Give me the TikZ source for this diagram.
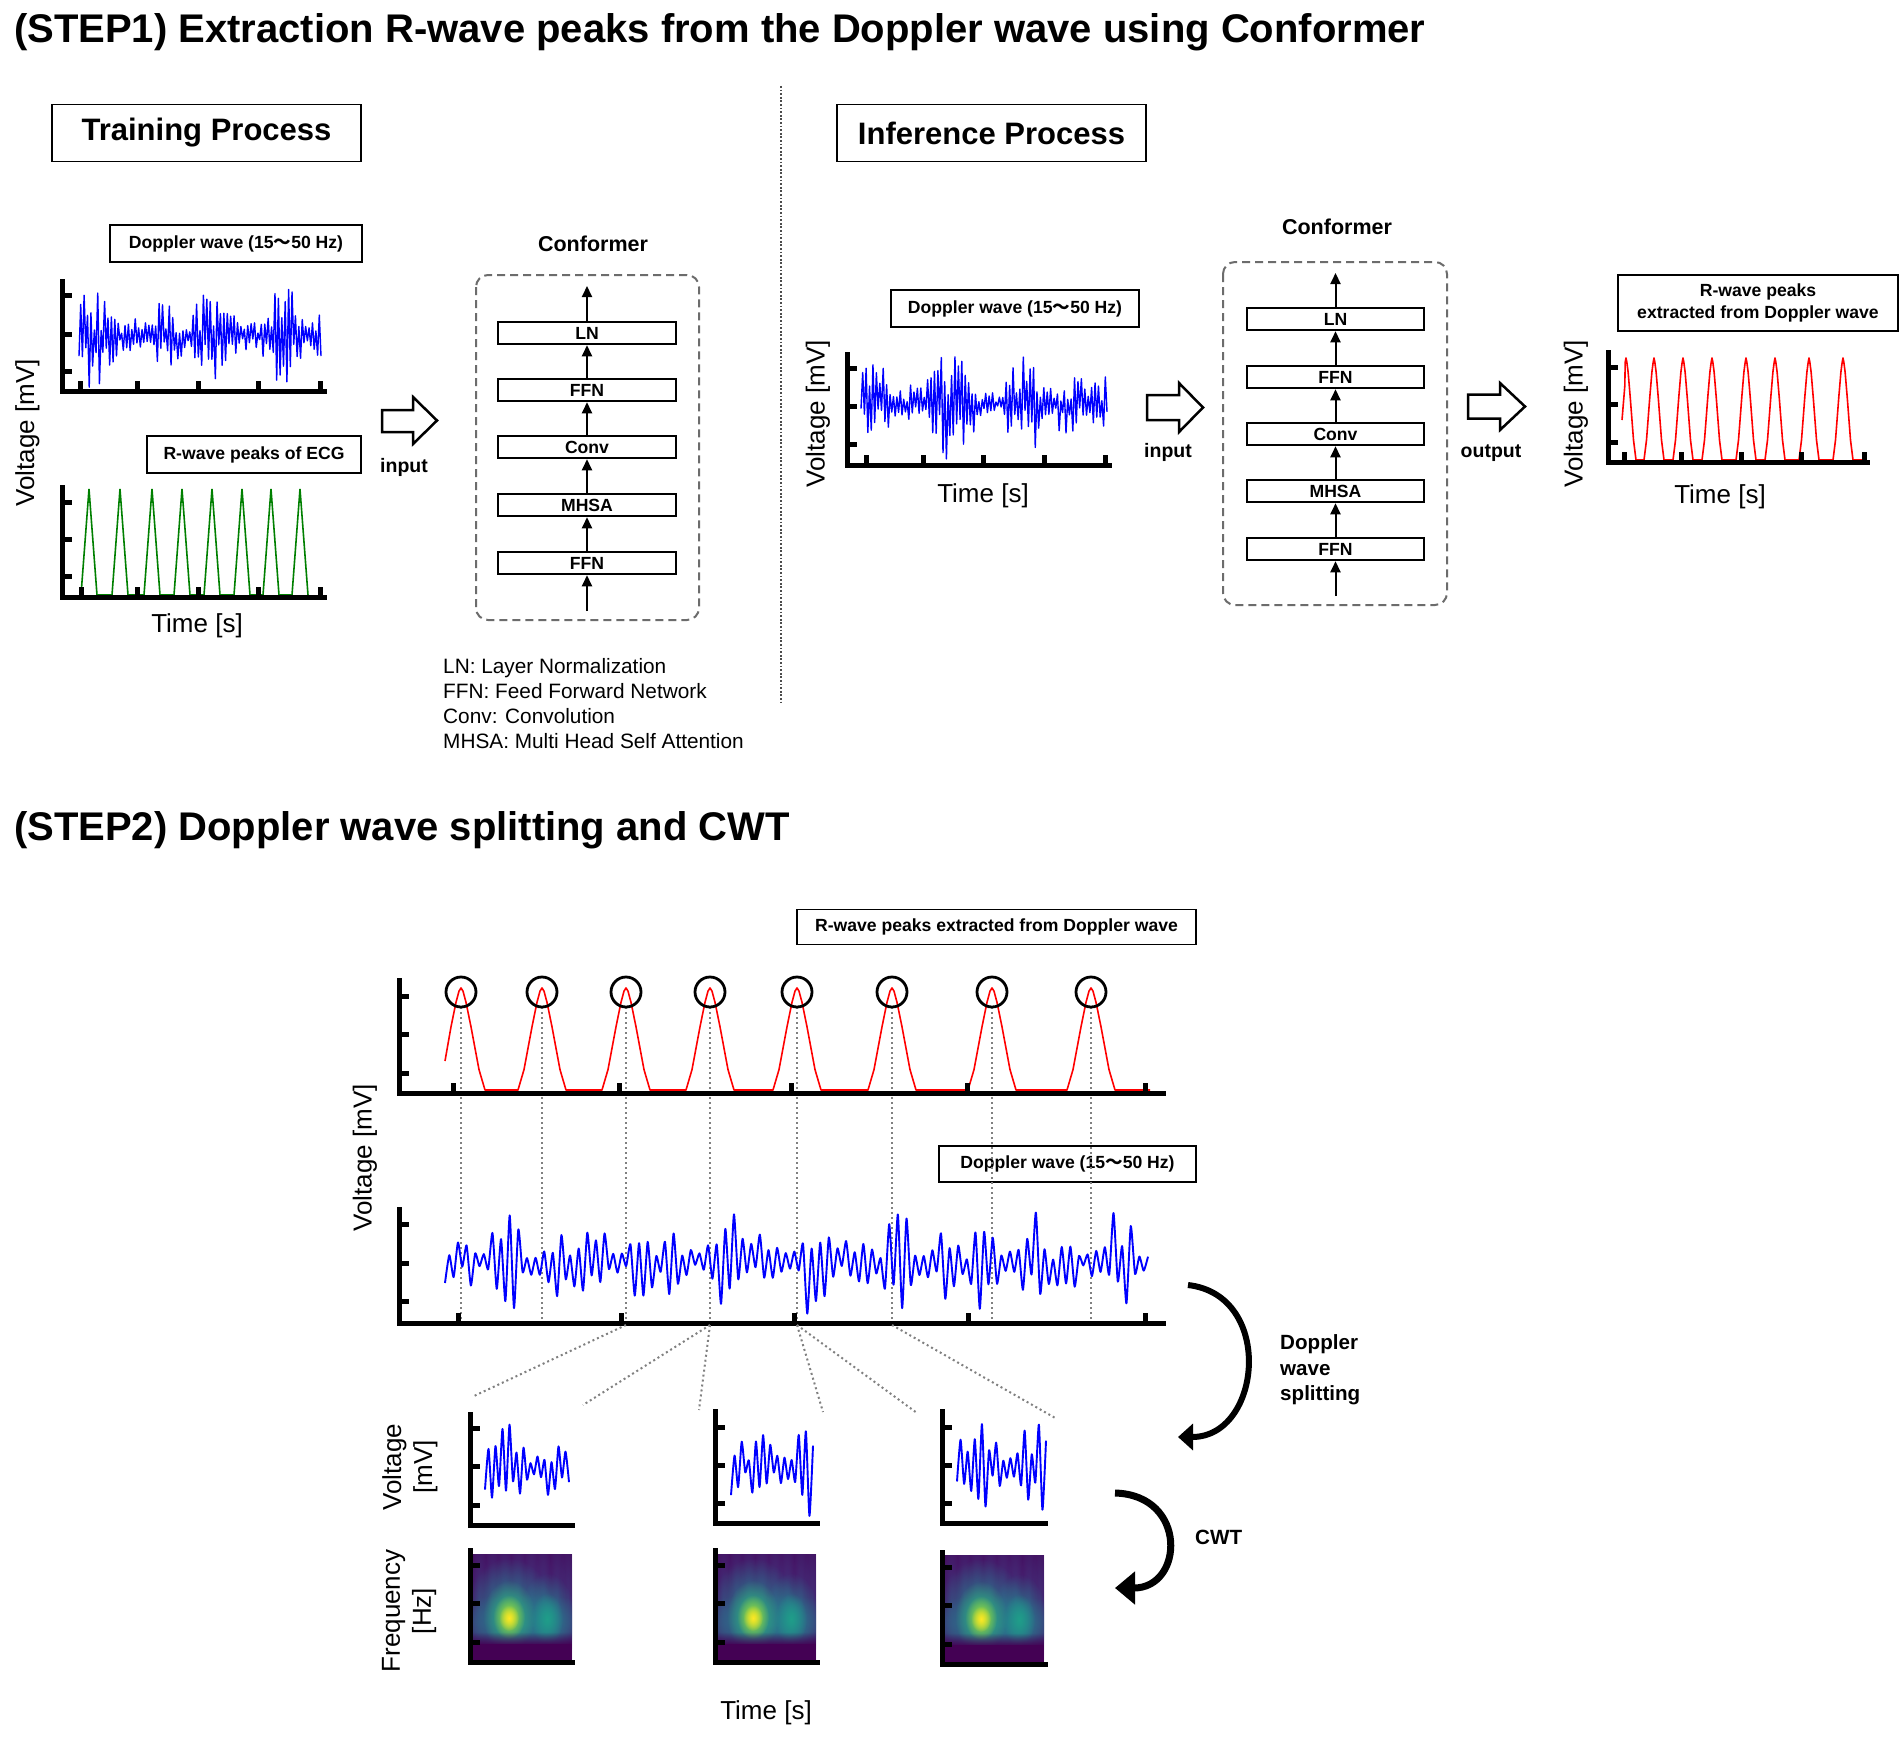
\documentclass[tikz,border=0pt]{standalone}
\usepackage{fontspec}
\setmainfont{Liberation Sans}
\newfontfamily\cjkfont{Noto Sans CJK JP}
\usetikzlibrary{arrows.meta,fadings}

\definecolor{vir0}{HTML}{440154}
\definecolor{virA}{HTML}{482878}
\definecolor{vir1}{HTML}{3E4A89}
\definecolor{virB}{HTML}{31688E}
\definecolor{vir2}{HTML}{26828E}
\definecolor{virC}{HTML}{1F9E89}
\definecolor{vir3}{HTML}{35B779}
\definecolor{virD}{HTML}{B4DE2C}
\definecolor{vir4}{HTML}{FDE725}
\definecolor{ecggreen}{RGB}{0,128,0}

\tikzfading[name=glow, inner color=transparent!0, outer color=transparent!100]
\tikzfading[name=fadedown, top color=transparent!100, bottom color=transparent!0]

\newcommand\ftitle{\fontsize{40pt}{48pt}\selectfont\bfseries}
\newcommand\fproc{\fontsize{31pt}{37pt}\selectfont\bfseries}
\newcommand\flabel{\fontsize{17.6pt}{22pt}\selectfont\bfseries}
\newcommand\faxis{\fontsize{26pt}{31pt}\selectfont}
\newcommand\fconf{\fontsize{21.5pt}{26pt}\selectfont\bfseries}
\newcommand\fblk{\fontsize{17.6pt}{21pt}\selectfont\bfseries}
\newcommand\fleg{\fontsize{20.8pt}{25pt}\selectfont}
\newcommand\fio{\fontsize{19.5pt}{23pt}\selectfont\bfseries}
\newcommand\fside{\fontsize{20.6pt}{25pt}\selectfont\bfseries}
\newcommand\tld{{\cjkfont ～}}

\tikzset{
  lbl/.style={draw, line width=1.8pt, inner sep=0pt, font=\flabel, align=center},
  proc/.style={draw, line width=1.8pt, inner sep=0pt, font=\fproc},
  blk/.style={draw, line width=2pt, inner sep=0pt, minimum height=22.5pt, font=\fblk},
  arr/.style={line width=2pt, -{Triangle[length=11pt,width=10pt]}},
  dbox/.style={draw=gray!85!black, line width=2pt, dash pattern=on 8pt off 5pt, rounded corners=12pt},
  sepline/.style={draw=gray!60!black, line width=1.8pt, dash pattern=on 1.8pt off 1.8pt},
  dotline/.style={draw=gray, line width=2pt, dash pattern=on 2pt off 3pt},
  hollow/.style={draw, line width=2.5pt, line join=miter, fill=white},
  bluewave/.style={draw=blue, line width=1.4pt, line join=round},
  bluewave2/.style={draw=blue, line width=1.9pt, line join=round},
  redwave/.style={draw=red, line width=1.6pt, line join=round},
  greenwave/.style={draw=ecggreen, line width=1.6pt},
  bigcurve/.style={line width=6pt},
  txt/.style={inner sep=0pt}
}

\newcommand\plotaxes[6]{%
  \draw[line width=5pt] (#1,#2) -- (#1,#3) -- (#4,#3);
  \foreach \tk in {#5} {\fill (#1,\tk-2.5) rectangle (#1+10,\tk+2.5);}
  \foreach \tk in {#6} {\fill (\tk-2.5,#3) rectangle (\tk+2.5,#3-10);}
}
\newcommand\plotaxesnox[5]{%
  \draw[line width=5pt] (#1,#2) -- (#1,#3) -- (#4,#3);
  \foreach \tk in {#5} {\fill (#1,\tk-2.5) rectangle (#1+10,\tk+2.5);}
}
\newcommand\cwtimg[2]{%
  \begin{scope}[shift={(#1,#2)}]
    \fill[vir0] (0,0) rectangle (99,107);
    \begin{scope}
      \clip (0,0) rectangle (99,107);
      \fill[virA, path fading=glow] (48,50) ellipse (110pt and 100pt);
      \foreach \sx in {6,19,31,45,58,70,84,95} {\fill[vir1, opacity=0.45, path fading=glow] (\sx,45) ellipse (9pt and 70pt);}
      \fill[virB, path fading=glow] (50,70) ellipse (95pt and 30pt);
      \fill[vir2, path fading=glow] (36,58) ellipse (44pt and 54pt);
      \fill[vir2, path fading=glow] (74,63) ellipse (28pt and 44pt);
      \fill[vir3, path fading=glow] (36,62) ellipse (26pt and 36pt);
      \fill[virC, path fading=glow] (74,65) ellipse (16pt and 26pt);
      \fill[virD, path fading=glow] (36,63) ellipse (16pt and 22pt);
      \fill[vir4, path fading=glow] (36,64) ellipse (10pt and 13pt);
      \fill[vir0, path fading=fadedown] (0,78) rectangle (99,92);
      \fill[vir0] (0,90) rectangle (99,107);
    \end{scope}
  \end{scope}
}

\begin{document}
\begin{tikzpicture}[x=1pt,y=-1pt]
\useasboundingbox (0,0) rectangle (1904,1737);
\fill[white] (0,0) rectangle (1904,1737);

% ---------------- titles
\node[txt, anchor=base west, font=\ftitle] (t1) at (14,43) {(STEP1) Extraction R-wave peaks from the Doppler wave using Conformer};
\node[txt, anchor=base west, font=\ftitle] (t2) at (14,840) {(STEP2) Doppler wave splitting and CWT};

% ---------------- process boxes
\node[proc, minimum width=309pt, minimum height=57pt] (tp) at (206.5,133) {Training Process};
\node[proc, minimum width=309pt, minimum height=57pt] (ip) at (991.5,133) {Inference Process};

% separator
\draw[sepline] (781,86) -- (781,702);

% ---------------- training: Doppler plot
\node[lbl, minimum width=252pt, minimum height=37pt] (ld1) at (236,243.5) {Doppler wave (15\tld50 Hz)};
\pgfmathsetseed{3}
\draw[bluewave] plot[domain=79:321, samples=143] (\x,{336+54*(0.25+0.75*abs(sin(2.9*\x)*cos(1.7*\x+30)))*(1-2*mod(round((\x-79)/1.70423),2))*(0.1+0.9*abs(rand))});
\plotaxes{62}{279}{391}{327}{295,334,371}{80,137,198,258,320}

% training: ECG plot
\node[lbl, minimum width=214pt, minimum height=37pt] (lr1) at (254,454.5) {R-wave peaks of ECG};
\draw[greenwave] (81,595) \foreach \p in {89,120,152,182,212,242,271,300} { -- (\p-8,595) -- (\p,489) -- (\p+8,595) };
\plotaxes{62}{485}{597}{327}{502,539,576}{81,137,198,258,320}

\node[font=\faxis, rotate=90] (v1) at (27.5,433) {Voltage [mV]};
\node[font=\faxis] (tm1) at (197,626) {Time [s]};

% hollow arrow + input
\draw[hollow] (382,410) -- (413,410) -- (413,397) -- (437,420.5) -- (413,444) -- (413,432) -- (382,432) -- cycle;
\node[txt, anchor=base, font=\fio] (in1) at (404,472) {input};

% ---------------- conformer (left)
\node[font=\fconf] (cfL) at (593,244) {Conformer};
\draw[dbox] (476,275) rectangle (699,620);
\node[blk, minimum width=178pt] (L1) at (587,563) {FFN};
\node[blk, minimum width=178pt] (L2) at (587,505) {MHSA};
\node[blk, minimum width=178pt] (L3) at (587,447) {Conv};
\node[blk, minimum width=178pt] (L4) at (587,390) {FFN};
\node[blk, minimum width=178pt] (L5) at (587,333) {LN};
\coordinate (Lin) at (587,611);
\coordinate (Lout) at (587,286);
\draw[arr] (Lin) -- (L1);
\draw[arr] (L1) -- (L2);
\draw[arr] (L2) -- (L3);
\draw[arr] (L3) -- (L4);
\draw[arr] (L4) -- (L5);
\draw[arr] (L5) -- (Lout);

\node[txt, anchor=base west, font=\fleg] (g1) at (443,673) {LN: Layer Normalization};
\node[txt, anchor=base west, font=\fleg] (g2) at (443,698) {FFN: Feed Forward Network};
\node[txt, anchor=base west, font=\fleg] (g3) at (443,723) {Conv: Convolution};
\node[txt, anchor=base west, font=\fleg] (g4) at (443,748) {MHSA: Multi Head Self Attention};

% ---------------- inference: Doppler plot
\node[lbl, minimum width=248pt, minimum height=37pt] (ld2) at (1015,308.5) {Doppler wave (15\tld50 Hz)};
\pgfmathsetseed{5}
\draw[bluewave] plot[domain=861:1107, samples=145] (\x,{404+58*(0.25+0.75*abs(sin(2.7*\x+40)*cos(1.9*\x)))*(1-2*mod(round((\x-861)/1.70833),2))*(0.1+0.9*abs(rand))});
\plotaxes{847}{352}{465}{1112}{368,406,444}{866,923,983,1044,1105}
\node[font=\faxis, rotate=90] (v2) at (818,414) {Voltage [mV]};
\node[font=\faxis] (tm2) at (983,496) {Time [s]};

\draw[hollow] (1147,395) -- (1179,395) -- (1179,383) -- (1203,407.5) -- (1179,432) -- (1179,420) -- (1147,420) -- cycle;
\node[txt, anchor=base, font=\fio] (in2) at (1168,457) {input};

% conformer (right)
\node[font=\fconf] (cfR) at (1337,227) {Conformer};
\draw[dbox] (1223,262) rectangle (1447,605);
\node[blk, minimum width=177pt] (R1) at (1335.5,549) {FFN};
\node[blk, minimum width=177pt] (R2) at (1335.5,491) {MHSA};
\node[blk, minimum width=177pt] (R3) at (1335.5,434) {Conv};
\node[blk, minimum width=177pt] (R4) at (1335.5,377) {FFN};
\node[blk, minimum width=177pt] (R5) at (1335.5,319) {LN};
\coordinate (Rin) at (1335.5,596);
\coordinate (Rout) at (1335.5,273);
\draw[arr] (Rin) -- (R1);
\draw[arr] (R1) -- (R2);
\draw[arr] (R2) -- (R3);
\draw[arr] (R3) -- (R4);
\draw[arr] (R4) -- (R5);
\draw[arr] (R5) -- (Rout);

\draw[hollow] (1468,394.5) -- (1500,394.5) -- (1500,383) -- (1525,406.5) -- (1500,430) -- (1500,418.5) -- (1468,418.5) -- cycle;
\node[txt, anchor=base, font=\fio] (out1) at (1491,457) {output};

% inference: R-wave plot
\node[lbl, minimum width=280pt, minimum height=56pt] (lr2) at (1758,303) {R-wave peaks\\extracted from Doppler wave};
\draw[redwave] (1622,420) -- (1624.8,386) -- (1625.2,362) -- (1626,358) -- (1626.8,362) -- (1628.1,372) -- (1630.2,397) -- (1633.5,440) -- (1636,460)
  \foreach \p in {1654,1683,1712,1746,1775,1809,1843} { -- (\p-10,460) -- (\p-7.5,440) -- (\p-4.2,397) -- (\p-2.1,372) -- (\p-0.8,362) -- (\p,358) -- (\p+0.8,362) -- (\p+2.1,372) -- (\p+4.2,397) -- (\p+7.5,440) -- (\p+10,460) } -- (1866,460);
\plotaxes{1608}{350}{462}{1870}{367,404,442}{1624,1681,1741,1801,1864}
\node[font=\faxis, rotate=90] (v3) at (1576,414) {Voltage [mV]};
\node[font=\faxis] (tm3) at (1720,497) {Time [s]};

% ---------------- STEP2
\node[lbl, minimum width=399pt, minimum height=35pt] (lr3) at (996.5,927) {R-wave peaks extracted from Doppler wave};
\node[lbl, minimum width=257pt, minimum height=36pt] (ld3) at (1067.5,1164) {Doppler wave (15\tld50 Hz)};

% vertical dotted lines
\foreach \p in {461,542,626,710,797,892,992,1091} {\draw[dotline] (\p,1007) -- (\p,1323);}

% red peaks
\draw[redwave] (445,1061) -- (451,1026.8) -- (456,1002.3) -- (459,991.1) -- (461,988) -- (463,991.1) -- (466,1002.3) -- (471,1026.8) -- (479,1069.6) -- (485,1090)
  \foreach \p in {542,626,710,797,892,992,1091} { -- (\p-24,1090) -- (\p-18,1069.6) -- (\p-10,1026.8) -- (\p-5,1002.3) -- (\p-2,991.1) -- (\p,988) -- (\p+2,991.1) -- (\p+5,1002.3) -- (\p+10,1026.8) -- (\p+18,1069.6) -- (\p+24,1090) } -- (1150,1090);
\foreach \p in {461,542,626,710,797,892,992,1091} {\draw[line width=2.8pt] (\p,992) circle (15pt);}
\plotaxes{399}{978}{1093}{1166}{996,1034,1073}{453,619,791,967,1145}

% doppler wave step2
\pgfmathsetseed{21}
\draw[bluewave2] plot[smooth, tension=0.35, domain=445:1148, samples=164] (\x,{1262+62*(0.2+0.8*abs(sin(4.1*\x)*sin(2.3*\x+17)))*(1-2*mod(round((\x-445)/4.3129),2))*(0.15+0.85*abs(rand))});
\plotaxes{399}{1207}{1323}{1166}{1224,1263,1301}{458,621,794,968,1145}
\node[font=\faxis, rotate=90] (v4) at (365,1158) {Voltage [mV]};

% fan lines
\draw[dotline] (626,1325) -- (474,1396);
\draw[dotline] (710,1325) -- (583,1405);
\draw[dotline] (710,1325) -- (699,1410);
\draw[dotline] (797,1325) -- (823,1412);
\draw[dotline] (797,1325) -- (917,1413);
\draw[dotline] (892,1325) -- (1057,1419);

% small segment plots
\pgfmathsetseed{31}
\draw[bluewave2] plot[smooth, tension=0.35, domain=485:569, samples=25] (\x,{1470+56*(0.3+0.7*abs(sin(4.1*\x)*sin(2.3*\x+17)))*(1-2*mod(round((\x-485)/3.5),2))*(0.2+0.8*abs(rand))});
\pgfmathsetseed{37}
\draw[bluewave2] plot[smooth, tension=0.35, domain=731:813, samples=24] (\x,{1466+56*(0.3+0.7*abs(sin(4.1*\x)*sin(2.3*\x+17)))*(1-2*mod(round((\x-731)/3.5652),2))*(0.2+0.8*abs(rand))});
\pgfmathsetseed{41}
\draw[bluewave2] plot[smooth, tension=0.35, domain=957:1046, samples=26] (\x,{1466+56*(0.3+0.7*abs(sin(4.1*\x)*sin(2.3*\x+17)))*(1-2*mod(round((\x-957)/3.56),2))*(0.2+0.8*abs(rand))});
\plotaxesnox{470}{1412}{1525}{575}{1428,1466,1505}
\plotaxesnox{715}{1409}{1523}{820}{1427,1465,1503}
\plotaxesnox{942}{1409}{1523}{1048}{1427,1465,1503}
\node[font=\faxis, rotate=90, align=center] (v5) at (410,1467) {Voltage\\{[mV]}};

% CWT images
\cwtimg{473}{1554}
\cwtimg{717}{1554}
\cwtimg{945}{1555}
\plotaxesnox{470}{1548}{1662}{575}{1565,1603,1642}
\plotaxesnox{715}{1548}{1662}{820}{1565,1603,1642}
\plotaxesnox{942}{1550}{1664}{1048}{1567,1605,1644}
\node[font=\faxis, rotate=90, align=center] (f1) at (409,1611) {Frequency\\{[Hz]}};
\node[font=\faxis] (tm4) at (766,1713) {Time [s]};

% curved arrows
\coordinate (sa) at (1188,1285);
\coordinate (sb) at (1178,1437);
\draw[bigcurve, -{Triangle[length=15pt,width=26pt]}] (sa) .. controls (1275,1295) and (1262,1437) .. (sb);
\node[txt, anchor=base west, font=\fside] (sp1) at (1280,1349) {Doppler};
\node[txt, anchor=base west, font=\fside] (sp2) at (1280,1375) {wave};
\node[txt, anchor=base west, font=\fside] (sp3) at (1280,1400) {splitting};

\coordinate (ca) at (1115,1493);
\coordinate (cb) at (1115,1588);
\draw[line width=7pt, -{Triangle[length=20pt,width=32pt]}] (ca) .. controls (1188,1495) and (1184,1588) .. (cb);
\node[txt, anchor=base west, font=\fside] (cwt) at (1195,1544) {CWT};

\end{tikzpicture}
\end{document}
